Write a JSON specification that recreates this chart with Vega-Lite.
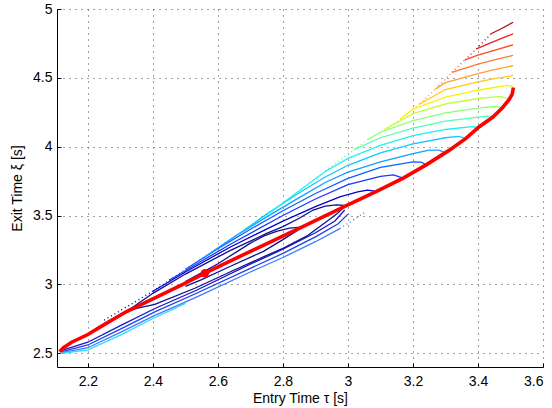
{
  "$schema": "https://vega.github.io/schema/vega-lite/v6.json",
  "width": 486,
  "height": 358,
  "autosize": {"type": "none"},
  "padding": {"left": 57, "top": 9, "right": 9, "bottom": 41},
  "background": "white",
  "config": {
    "view": {"stroke": null},
    "axis": {
      "labelFont": "Liberation Sans", "labelFontSize": 14, "labelColor": "#000",
      "titleFont": "Liberation Sans", "titleFontSize": 14, "titleFontWeight": "normal", "titleColor": "#000",
      "domainColor": "#000", "domainWidth": 1, "tickColor": "#000", "tickSize": -4,
      "grid": true, "gridColor": "#444", "gridDash": [1, 5], "gridWidth": 1
    }
  },
  "datasets": {
    "curves": [
      {"k":"A","i":0,"x":2.319,"y":2.803},{"k":"A","i":1,"x":2.4,"y":2.935},{"k":"A","i":2,"x":2.5,"y":3.075},{"k":"A","i":3,"x":2.637,"y":3.245},{"k":"A","i":4,"x":2.75,"y":3.37},{"k":"A","i":5,"x":2.8,"y":3.42},{"k":"A","i":6,"x":2.85,"y":3.48},{"k":"A","i":7,"x":2.893,"y":3.54},{"k":"A","i":8,"x":2.93,"y":3.568},{"k":"A","i":9,"x":2.965,"y":3.578},{"k":"A","i":10,"x":2.993,"y":3.572},{"k":"A","i":11,"x":2.97,"y":3.52},{"k":"A","i":12,"x":2.945,"y":3.475},{"k":"A","i":13,"x":2.873,"y":3.35},{"k":"A","i":14,"x":2.8,"y":3.262},{"k":"A","i":15,"x":2.74,"y":3.2},{"k":"A","i":16,"x":2.637,"y":3.09},{"k":"A","i":17,"x":2.529,"y":2.972},{"k":"A","i":18,"x":2.406,"y":2.855},{"k":"A","i":19,"x":2.35,"y":2.825},{"k":"A","i":20,"x":2.319,"y":2.803},
      {"k":"A2","i":0,"x":2.5,"y":3.02},{"k":"A2","i":1,"x":2.6,"y":3.15},{"k":"A2","i":2,"x":2.7,"y":3.3},{"k":"A2","i":3,"x":2.74,"y":3.35},{"k":"A2","i":4,"x":2.78,"y":3.385},{"k":"A2","i":5,"x":2.82,"y":3.408},{"k":"A2","i":6,"x":2.858,"y":3.416},{"k":"A2","i":7,"x":2.84,"y":3.385},{"k":"A2","i":8,"x":2.8,"y":3.325},{"k":"A2","i":9,"x":2.74,"y":3.24},{"k":"A2","i":10,"x":2.637,"y":3.13},{"k":"A2","i":11,"x":2.55,"y":3.035},{"k":"A2","i":12,"x":2.5,"y":2.985},
      {"k":"L2","i":0,"x":2.12,"y":2.52},{"k":"L2","i":1,"x":2.2,"y":2.58},{"k":"L2","i":2,"x":2.3,"y":2.7},{"k":"L2","i":3,"x":2.406,"y":2.825},{"k":"L2","i":4,"x":2.529,"y":2.952},{"k":"L2","i":5,"x":2.698,"y":3.145},{"k":"L2","i":6,"x":2.8,"y":3.255},{"k":"L2","i":7,"x":2.9,"y":3.375},{"k":"L2","i":8,"x":2.96,"y":3.46},{"k":"L2","i":9,"x":2.99,"y":3.54},
      {"k":"L3","i":0,"x":2.12,"y":2.512},{"k":"L3","i":1,"x":2.2,"y":2.56},{"k":"L3","i":2,"x":2.3,"y":2.675},{"k":"L3","i":3,"x":2.406,"y":2.8},{"k":"L3","i":4,"x":2.529,"y":2.93},{"k":"L3","i":5,"x":2.698,"y":3.115},{"k":"L3","i":6,"x":2.8,"y":3.225},{"k":"L3","i":7,"x":2.9,"y":3.345},{"k":"L3","i":8,"x":2.97,"y":3.44},{"k":"L3","i":9,"x":3.0,"y":3.51},
      {"k":"L4","i":0,"x":2.12,"y":2.505},{"k":"L4","i":1,"x":2.2,"y":2.54},{"k":"L4","i":2,"x":2.3,"y":2.652},{"k":"L4","i":3,"x":2.406,"y":2.775},{"k":"L4","i":4,"x":2.529,"y":2.902},{"k":"L4","i":5,"x":2.698,"y":3.088},{"k":"L4","i":6,"x":2.8,"y":3.195},{"k":"L4","i":7,"x":2.9,"y":3.31},{"k":"L4","i":8,"x":2.975,"y":3.405},
      {"k":"L5","i":0,"x":2.115,"y":2.498},{"k":"L5","i":1,"x":2.2,"y":2.525},{"k":"L5","i":2,"x":2.3,"y":2.632},{"k":"L5","i":3,"x":2.4,"y":2.752},{"k":"L5","i":4,"x":2.5,"y":2.862},
      {"k":"B","i":0,"x":2.4,"y":2.95},{"k":"B","i":1,"x":2.5,"y":3.09},{"k":"B","i":2,"x":2.637,"y":3.27},{"k":"B","i":3,"x":2.8,"y":3.46},{"k":"B","i":4,"x":2.9,"y":3.565},{"k":"B","i":5,"x":2.975,"y":3.636},{"k":"B","i":6,"x":3.03,"y":3.672},{"k":"B","i":7,"x":3.06,"y":3.685},{"k":"B","i":8,"x":3.088,"y":3.675},
      {"k":"C","i":0,"x":2.45,"y":3.03},{"k":"C","i":1,"x":2.55,"y":3.17},{"k":"C","i":2,"x":2.637,"y":3.29},{"k":"C","i":3,"x":2.8,"y":3.5},{"k":"C","i":4,"x":2.9,"y":3.62},{"k":"C","i":5,"x":3.0,"y":3.725},{"k":"C","i":6,"x":3.1,"y":3.785},{"k":"C","i":7,"x":3.14,"y":3.795},{"k":"C","i":8,"x":3.17,"y":3.772},
      {"k":"D","i":0,"x":2.5,"y":3.11},{"k":"D","i":1,"x":2.6,"y":3.26},{"k":"D","i":2,"x":2.7,"y":3.4},{"k":"D","i":3,"x":2.8,"y":3.535},{"k":"D","i":4,"x":2.9,"y":3.66},{"k":"D","i":5,"x":3.0,"y":3.77},{"k":"D","i":6,"x":3.1,"y":3.85},{"k":"D","i":7,"x":3.2,"y":3.89},{"k":"D","i":8,"x":3.225,"y":3.888},{"k":"D","i":9,"x":3.242,"y":3.868},
      {"k":"E","i":0,"x":2.56,"y":3.2},{"k":"E","i":1,"x":2.65,"y":3.345},{"k":"E","i":2,"x":2.75,"y":3.49},{"k":"E","i":3,"x":2.85,"y":3.63},{"k":"E","i":4,"x":2.93,"y":3.74},{"k":"E","i":5,"x":3.0,"y":3.815},{"k":"E","i":6,"x":3.1,"y":3.89},{"k":"E","i":7,"x":3.2,"y":3.95},{"k":"E","i":8,"x":3.25,"y":3.975},{"k":"E","i":9,"x":3.28,"y":3.975},{"k":"E","i":10,"x":3.3,"y":3.955},
      {"k":"F","i":0,"x":2.66,"y":3.36},{"k":"F","i":1,"x":2.75,"y":3.51},{"k":"F","i":2,"x":2.85,"y":3.665},{"k":"F","i":3,"x":2.93,"y":3.78},{"k":"F","i":4,"x":3.0,"y":3.865},{"k":"F","i":5,"x":3.1,"y":3.955},{"k":"F","i":6,"x":3.2,"y":4.02},{"k":"F","i":7,"x":3.3,"y":4.065},{"k":"F","i":8,"x":3.34,"y":4.075},{"k":"F","i":9,"x":3.363,"y":4.06},
      {"k":"G","i":0,"x":2.76,"y":3.52},{"k":"G","i":1,"x":2.85,"y":3.68},{"k":"G","i":2,"x":2.93,"y":3.82},{"k":"G","i":3,"x":3.0,"y":3.915},{"k":"G","i":4,"x":3.1,"y":4.01},{"k":"G","i":5,"x":3.2,"y":4.08},{"k":"G","i":6,"x":3.3,"y":4.125},{"k":"G","i":7,"x":3.38,"y":4.145},{"k":"G","i":8,"x":3.41,"y":4.14},
      {"k":"H","i":0,"x":3.02,"y":3.98},{"k":"H","i":1,"x":3.1,"y":4.065},{"k":"H","i":2,"x":3.2,"y":4.135},{"k":"H","i":3,"x":3.3,"y":4.185},{"k":"H","i":4,"x":3.4,"y":4.215},{"k":"H","i":5,"x":3.43,"y":4.222},{"k":"H","i":6,"x":3.446,"y":4.215},
      {"k":"I","i":0,"x":3.06,"y":4.05},{"k":"I","i":1,"x":3.1,"y":4.105},{"k":"I","i":2,"x":3.2,"y":4.19},{"k":"I","i":3,"x":3.3,"y":4.245},{"k":"I","i":4,"x":3.4,"y":4.28},{"k":"I","i":5,"x":3.45,"y":4.292},{"k":"I","i":6,"x":3.477,"y":4.285},
      {"k":"J","i":0,"x":3.11,"y":4.12},{"k":"J","i":1,"x":3.2,"y":4.24},{"k":"J","i":2,"x":3.3,"y":4.31},{"k":"J","i":3,"x":3.4,"y":4.35},{"k":"J","i":4,"x":3.47,"y":4.365},{"k":"J","i":5,"x":3.497,"y":4.348},
      {"k":"K","i":0,"x":3.16,"y":4.2},{"k":"K","i":1,"x":3.2,"y":4.272},{"k":"K","i":2,"x":3.3,"y":4.36},{"k":"K","i":3,"x":3.4,"y":4.41},{"k":"K","i":4,"x":3.45,"y":4.43},{"k":"K","i":5,"x":3.49,"y":4.445},{"k":"K","i":6,"x":3.508,"y":4.44},
      {"k":"L","i":0,"x":3.22,"y":4.31},{"k":"L","i":1,"x":3.3,"y":4.415},{"k":"L","i":2,"x":3.4,"y":4.47},{"k":"L","i":3,"x":3.45,"y":4.495},{"k":"L","i":4,"x":3.508,"y":4.516},
      {"k":"M","i":0,"x":3.27,"y":4.42},{"k":"M","i":1,"x":3.3,"y":4.465},{"k":"M","i":2,"x":3.4,"y":4.53},{"k":"M","i":3,"x":3.45,"y":4.56},{"k":"M","i":4,"x":3.508,"y":4.588},
      {"k":"N","i":0,"x":3.32,"y":4.54},{"k":"N","i":1,"x":3.4,"y":4.6},{"k":"N","i":2,"x":3.45,"y":4.63},{"k":"N","i":3,"x":3.508,"y":4.663},
      {"k":"O","i":0,"x":3.36,"y":4.63},{"k":"O","i":1,"x":3.4,"y":4.665},{"k":"O","i":2,"x":3.45,"y":4.7},{"k":"O","i":3,"x":3.508,"y":4.74},
      {"k":"P","i":0,"x":3.395,"y":4.71},{"k":"P","i":1,"x":3.45,"y":4.765},{"k":"P","i":2,"x":3.508,"y":4.82},
      {"k":"Q","i":0,"x":3.44,"y":4.82},{"k":"Q","i":1,"x":3.47,"y":4.855},{"k":"Q","i":2,"x":3.508,"y":4.904}
    ],
    "tails": [
      {"k":"B","i":0,"x":2.25,"y":2.74},{"k":"B","i":1,"x":2.4,"y":2.95},
      {"k":"C","i":0,"x":2.4,"y":2.95},{"k":"C","i":1,"x":2.45,"y":3.03},
      {"k":"D","i":0,"x":2.45,"y":3.03},{"k":"D","i":1,"x":2.5,"y":3.11},
      {"k":"E","i":0,"x":2.5,"y":3.11},{"k":"E","i":1,"x":2.56,"y":3.2},
      {"k":"F","i":0,"x":2.56,"y":3.2},{"k":"F","i":1,"x":2.66,"y":3.36},
      {"k":"G","i":0,"x":2.66,"y":3.36},{"k":"G","i":1,"x":2.76,"y":3.52},
      {"k":"H","i":0,"x":2.93,"y":3.824},{"k":"H","i":1,"x":3.02,"y":3.98},
      {"k":"I","i":0,"x":3.02,"y":3.98},{"k":"I","i":1,"x":3.06,"y":4.05},
      {"k":"J","i":0,"x":3.06,"y":4.05},{"k":"J","i":1,"x":3.11,"y":4.12},
      {"k":"K","i":0,"x":3.11,"y":4.12},{"k":"K","i":1,"x":3.16,"y":4.2},
      {"k":"L","i":0,"x":3.16,"y":4.2},{"k":"L","i":1,"x":3.22,"y":4.31},
      {"k":"M","i":0,"x":3.22,"y":4.31},{"k":"M","i":1,"x":3.27,"y":4.42},
      {"k":"N","i":0,"x":3.27,"y":4.42},{"k":"N","i":1,"x":3.32,"y":4.54},
      {"k":"O","i":0,"x":3.32,"y":4.54},{"k":"O","i":1,"x":3.36,"y":4.63},
      {"k":"P","i":0,"x":3.36,"y":4.63},{"k":"P","i":1,"x":3.395,"y":4.71},
      {"k":"Q","i":0,"x":3.395,"y":4.71},{"k":"Q","i":1,"x":3.44,"y":4.82},
      {"k":"L4","i":0,"x":2.975,"y":3.405},{"k":"L4","i":1,"x":3.05,"y":3.52}
    ],
    "ridge": [
      {"x":2.113,"y":2.51},{"x":2.125,"y":2.54},{"x":2.15,"y":2.58},{"x":2.2,"y":2.636},{"x":2.25,"y":2.708},{"x":2.319,"y":2.803},{"x":2.4,"y":2.895},{"x":2.5,"y":3.01},{"x":2.56,"y":3.081},{"x":2.7,"y":3.24},{"x":2.858,"y":3.416},{"x":3.0,"y":3.578},{"x":3.088,"y":3.675},{"x":3.17,"y":3.772},{"x":3.242,"y":3.87},{"x":3.312,"y":3.975},{"x":3.363,"y":4.06},{"x":3.404,"y":4.145},{"x":3.446,"y":4.215},{"x":3.476,"y":4.285},{"x":3.495,"y":4.34},{"x":3.505,"y":4.38},{"x":3.509,"y":4.43}
    ],
    "dot": [{"x":2.56,"y":3.081}]
  },
  "resolve": {"scale": {"color": "shared"}},
  "layer": [
    {
      "data": {"name": "tails"},
      "mark": {"type": "line", "strokeWidth": 1.4, "strokeDash": [1, 3], "clip": true},
      "encoding": {
        "x": {"field": "x", "type": "quantitative", "scale": {"domain": [2.105, 3.6], "nice": false, "zero": false},
              "axis": {"values": [2.2, 2.4, 2.6, 2.8, 3.0, 3.2, 3.4, 3.6], "format": "~g", "title": "Entry Time τ [s]", "labelPadding": 11, "titleY": 24, "titleBaseline": "top"}},
        "y": {"field": "y", "type": "quantitative", "scale": {"domain": [2.4, 5], "nice": false, "zero": false},
              "axis": {"values": [2.5, 3, 3.5, 4, 4.5, 5], "format": "~g", "title": "Exit Time ξ [s]", "labelPadding": 9, "titleX": -40, "titleBaseline": "middle"}},
        "detail": {"field": "k"},
        "order": {"field": "i", "type": "quantitative"},
        "color": {"field": "k", "type": "nominal", "legend": null,
                  "scale": {"domain": ["A","A2","L2","L3","L4","L5","B","C","D","E","F","G","H","I","J","K","L","M","N","O","P","Q"],
                            "range": ["#10108f","#10108f","#1818c0","#2040e8","#3a7cff","#30d8ff","#0000d0","#1838ff","#1060ff","#10a0ff","#10c8ff","#20f0f0","#50ffb0","#8cff72","#c0ff40","#f6f400","#ffc810","#ffa030","#ff7830","#ff4a20","#f02020","#b01010"]}}
      }
    },
    {
      "data": {"name": "curves"},
      "mark": {"type": "line", "strokeWidth": 1.3, "clip": true},
      "encoding": {
        "x": {"field": "x", "type": "quantitative"},
        "y": {"field": "y", "type": "quantitative"},
        "detail": {"field": "k"},
        "order": {"field": "i", "type": "quantitative"},
        "color": {"field": "k", "type": "nominal", "legend": null}
      }
    },
    {
      "data": {"name": "ridge"},
      "mark": {"type": "line", "color": "#ff0000", "strokeWidth": 3.6},
      "encoding": {
        "x": {"field": "x", "type": "quantitative"},
        "y": {"field": "y", "type": "quantitative"}
      }
    },
    {
      "data": {"name": "dot"},
      "mark": {"type": "point", "filled": true, "color": "#ff0000", "size": 70, "opacity": 1},
      "encoding": {
        "x": {"field": "x", "type": "quantitative"},
        "y": {"field": "y", "type": "quantitative"}
      }
    }
  ]
}
